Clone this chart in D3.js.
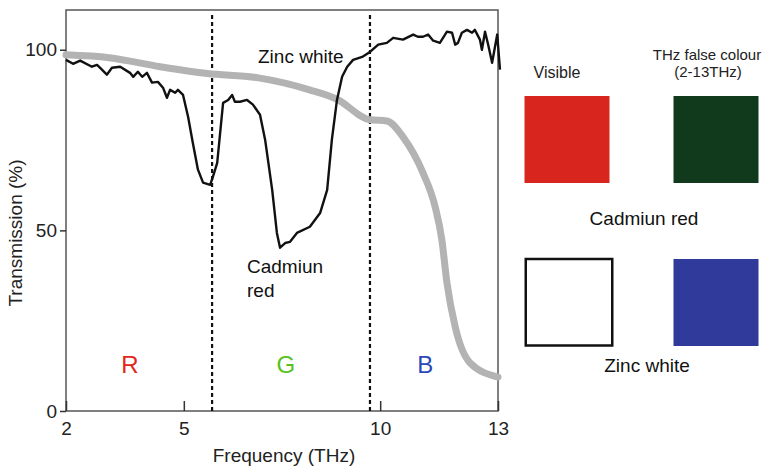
<!DOCTYPE html>
<html>
<head>
<meta charset="utf-8">
<script src="https://cdn.jsdelivr.net/npm/d3@7"></script>
<style>
  body { margin: 0; background: #fff; }
  svg { display: block; font-family: "Liberation Sans", Arial, sans-serif; }
</style>
</head>
<body>
<svg id="chart" width="768" height="469"></svg>
<script>
// ---- data ----
var xTicks = [2, 5, 10, 13];
var yTicks = [0, 50, 100];
var bandEdges = [5.72, 9.74];           // dotted R|G and G|B borders (THz)
var bandLabels = ["R", "G", "B"];
var bandCentres = [3.63, 7.6, 11.15];
var bandColours = ["#e2261c", "#55c21e", "#2b48b8"];

// black trace
var blackFreq = [2.00, 2.18, 2.36, 2.66, 2.79, 2.87, 3.04, 3.17, 3.38, 3.63,
  3.71, 3.83, 3.94, 4.06, 4.19, 4.34, 4.47, 4.57, 4.65, 4.78,
  4.85, 4.98, 5.11, 5.23, 5.36, 5.49, 5.67, 5.74, 5.85, 6.00,
  6.13, 6.23, 6.30, 6.43, 6.61, 6.76, 6.94, 7.07, 7.25, 7.37,
  7.45, 7.58, 7.70, 7.88, 8.21, 8.47, 8.65, 8.77, 8.90, 9.03,
  9.16, 9.31, 9.56, 9.74, 9.95, 10.17, 10.33, 10.58, 10.84, 10.96,
  11.09, 11.22, 11.35, 11.52, 11.70, 11.83, 11.91, 11.98, 12.08, 12.21,
  12.34, 12.41, 12.54, 12.59, 12.67, 12.75, 12.85, 12.98, 13.05];
var blackTrans = [97.2, 96.1, 97.0, 95.3, 95.8, 95.0, 93.1, 95.0, 95.3, 93.6,
  92.5, 93.9, 92.5, 93.6, 90.9, 91.1, 89.5, 86.7, 88.9, 88.1,
  88.9, 87.5, 81.4, 74.2, 66.8, 63.2, 62.6, 64.8, 68.7, 85.3,
  86.1, 87.5, 85.6, 85.6, 86.1, 84.8, 82.0, 75.1, 61.2, 49.3,
  45.2, 46.5, 46.8, 49.3, 51.0, 54.8, 61.2, 75.1, 86.1, 92.5,
  95.3, 97.2, 98.1, 99.4, 101.4, 101.9, 103.3, 102.8, 104.2, 103.6,
  103.6, 104.2, 102.5, 101.9, 105.0, 104.7, 101.4, 101.9, 104.7, 105.5,
  104.7, 105.5, 102.8, 100.0, 105.0, 101.4, 96.4, 104.2, 94.5];

// thick grey trace
var greyFreq = [2.0, 3.1, 4.4, 5.6, 6.9, 8.2, 8.9, 9.74, 10.17, 10.58,
  11.09, 11.40, 11.57, 11.70, 11.91, 12.29, 13.0];
var greyTrans = [98.6, 97.8, 95.3, 93.4, 92.2, 88.9, 86.3, 80.6, 80.3, 75.9,
  65.9, 56.5, 47.4, 35.5, 23.3, 13.3, 9.4];

// swatches
var swatchColumns = ["Visible", "THz false colour"];
var swatchRows = ["Cadmiun red", "Zinc white"];
var swatchFills = [["#d8261e", "#113a1c"], ["#ffffff", "#2f3a9a"]];

// ---- drawing ----
var svg = d3.select("#chart");
var margin = { top: 10, left: 66, right: 270, bottom: 58 };
var W = 768, H = 469;

var x = d3.scaleLinear().domain([2, 13]).range([margin.left, W - margin.right]);
var y = d3.scaleLinear().domain([0, 111]).range([H - margin.bottom, margin.top]);

// frame
svg.append("rect")
  .attr("x", x(2)).attr("y", y(111))
  .attr("width", x(13) - x(2)).attr("height", y(0) - y(111))
  .attr("fill", "none").attr("stroke", "#555").attr("stroke-width", 1.5);

// axes
var yAxis = svg.append("g")
  .attr("transform", "translate(" + x(2) + ",0)")
  .call(d3.axisLeft(y).tickValues(yTicks).tickSize(6).tickPadding(3).tickFormat(d3.format("d")));
var xAxis = svg.append("g")
  .attr("transform", "translate(0," + y(0) + ")")
  .call(d3.axisBottom(x).tickValues(xTicks).tickSize(-10).tickPadding(11).tickFormat(d3.format("d")));
[xAxis, yAxis].forEach(function (g) {
  g.select(".domain").remove();
  g.selectAll("line").attr("stroke", "#333").attr("stroke-width", 1.5);
  g.selectAll("text").attr("font-size", 19).attr("fill", "#222")
    .attr("font-family", "Liberation Sans, Arial, sans-serif");
});

// axis titles
svg.append("text").attr("x", 284).attr("y", 462)
  .attr("text-anchor", "middle").attr("font-size", 19).attr("fill", "#222")
  .text("Frequency (THz)");
svg.append("text")
  .attr("transform", "translate(22," + 233 + ") rotate(-90)")
  .attr("text-anchor", "middle").attr("font-size", 19).attr("fill", "#222")
  .text("Transmission (%)");

// dotted band borders
svg.append("g").selectAll("line").data(bandEdges).enter().append("line")
  .attr("x1", function (d) { return x(d); }).attr("x2", function (d) { return x(d); })
  .attr("y1", y(109.6)).attr("y2", y(0))
  .attr("stroke", "#111").attr("stroke-width", 2.2).attr("stroke-dasharray", "4,3");

// band letters
svg.append("g").selectAll("text").data(bandLabels).enter().append("text")
  .attr("x", function (d, i) { return x(bandCentres[i]); })
  .attr("y", y(10.5))
  .attr("text-anchor", "middle").attr("font-size", 24)
  .attr("fill", function (d, i) { return bandColours[i]; })
  .text(function (d) { return d; });

// traces
var greyLine = d3.line().curve(d3.curveMonotoneX)
  .x(function (d, i) { return x(greyFreq[i]); })
  .y(function (d) { return y(d); });
svg.append("path").datum(greyTrans)
  .attr("d", greyLine)
  .attr("fill", "none").attr("stroke", "#b3b3b3").attr("stroke-width", 7)
  .attr("stroke-linecap", "round").attr("stroke-linejoin", "round");

var blackLine = d3.line()
  .x(function (d, i) { return x(blackFreq[i]); })
  .y(function (d) { return y(d); });
svg.append("path").datum(blackTrans)
  .attr("d", blackLine)
  .attr("fill", "none").attr("stroke", "#111").attr("stroke-width", 2.4)
  .attr("stroke-linejoin", "round");

// trace labels
svg.append("text").attr("x", 258).attr("y", 63)
  .attr("font-size", 19).attr("fill", "#111").text("Zinc white");
svg.append("text").attr("x", 247).attr("y", 273)
  .attr("font-size", 19).attr("fill", "#111").text("Cadmiun");
svg.append("text").attr("x", 247).attr("y", 297)
  .attr("font-size", 19).attr("fill", "#111").text("red");

// swatch panel
var colX = [567, 716];
var rowY = [96, 259];
var sw = 85;

svg.append("text").attr("x", 557).attr("y", 78).attr("text-anchor", "middle")
  .attr("font-size", 16).attr("fill", "#222").text(swatchColumns[0]);
svg.append("text").attr("x", 707).attr("y", 60).attr("text-anchor", "middle")
  .attr("font-size", 15).attr("fill", "#222").text(swatchColumns[1]);
svg.append("text").attr("x", 708).attr("y", 77).attr("text-anchor", "middle")
  .attr("font-size", 15).attr("fill", "#222").text("(2-13THz)");

swatchRows.forEach(function (row, r) {
  swatchColumns.forEach(function (col, c) {
    var isWhite = swatchFills[r][c] === "#ffffff";
    svg.append("rect")
      .attr("x", colX[c] - sw / 2 + (isWhite ? 1.25 : 0))
      .attr("y", rowY[r])
      .attr("width", isWhite ? sw + 1.5 : sw)
      .attr("height", isWhite ? sw + 1.5 : 87)
      .attr("fill", swatchFills[r][c])
      .attr("stroke", isWhite ? "#111" : "none")
      .attr("stroke-width", isWhite ? 2.5 : 0);
  });
});
svg.append("text").attr("x", 644).attr("y", 225).attr("text-anchor", "middle")
  .attr("font-size", 19).attr("fill", "#111").text(swatchRows[0]);
svg.append("text").attr("x", 647).attr("y", 372).attr("text-anchor", "middle")
  .attr("font-size", 19).attr("fill", "#111").text(swatchRows[1]);
</script>
</body>
</html>
